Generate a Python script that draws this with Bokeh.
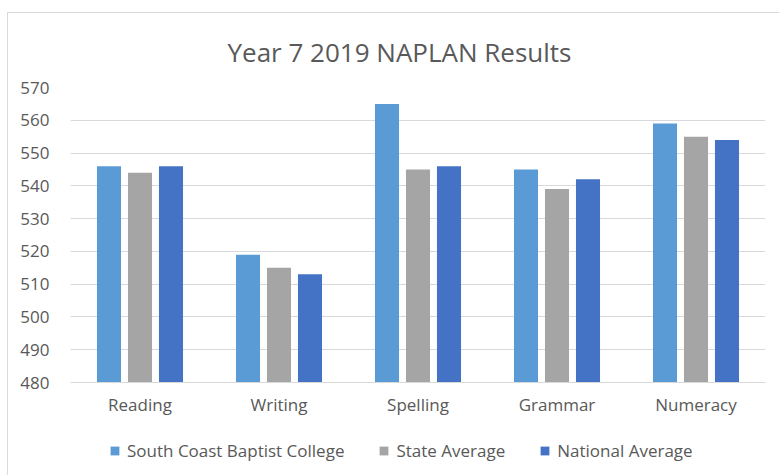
from bokeh.plotting import figure
from bokeh.layouts import column
from bokeh.models import ColumnDataSource, Range1d, FixedTicker, Legend, LegendItem
from bokeh.transform import dodge
from bokeh.embed import file_html
from bokeh.resources import INLINE

categories = ["Reading", "Writing", "Spelling", "Grammar", "Numeracy"]
school = [546, 519, 565, 545, 559]
state = [544, 515, 545, 539, 555]
national = [546, 513, 546, 542, 554]
series_names = ["South Coast Baptist College", "State Average", "National Average"]
y_ticks = [480, 490, 500, 510, 520, 530, 540, 550, 560, 570]

colors = ["#5B9BD5", "#A5A5A5", "#4472C4"]
TEXT = "#595959"
GRID = "#D9D9D9"
fields = ["school", "state", "national"]
offsets = [-0.223, 0.0, 0.223]

src = ColumnDataSource(dict(cat=categories, school=school, state=state, national=national))

# main chart
p = figure(x_range=categories, y_range=Range1d(480, 570), width=771, height=414,
           output_backend="svg", toolbar_location=None,
           min_border_left=62, min_border_right=14, min_border_top=74, min_border_bottom=45)

p.title.text = "Year 7 2019 NAPLAN Results"
p.title.align = "left"
p.title.text_font = "Open Sans"
p.title.text_font_size = "26px"
p.title.text_font_style = "normal"
p.title.text_color = TEXT
p.title.standoff = 36
p.title.offset = 157

for field, off, col in zip(fields, offsets, colors):
    p.vbar(x=dodge("cat", off, range=p.x_range), top=field, bottom=480, width=0.173,
           source=src, fill_color=col, line_color=None)

p.yaxis.ticker = FixedTicker(ticks=y_ticks)
p.yaxis.axis_line_color = None
p.yaxis.major_tick_line_color = None
p.yaxis.minor_tick_line_color = None
p.yaxis.major_label_standoff = 15
p.yaxis.major_label_text_font = "Open Sans"
p.yaxis.major_label_text_font_size = "17px"
p.yaxis.major_label_text_color = TEXT

p.xaxis.axis_line_color = GRID
p.xaxis.major_tick_line_color = None
p.xaxis.minor_tick_line_color = None
p.xaxis.major_label_standoff = 4
p.xaxis.major_label_text_font = "Open Sans"
p.xaxis.major_label_text_font_size = "17px"
p.xaxis.major_label_text_color = TEXT

p.xgrid.grid_line_color = None
p.ygrid.grid_line_color = GRID
p.ygrid.grid_line_width = 1
p.outline_line_color = None

# legend strip
lp = figure(x_range=p.x_range, y_range=Range1d(480, 570), width=771, height=48,
            output_backend="svg", toolbar_location=None,
            x_axis_location=None, y_axis_location=None, min_border=0)
lp.outline_line_color = None
lp.grid.visible = False
leg_renderers = []
for field, off, col in zip(fields, offsets, colors):
    r = lp.vbar(x=dodge("cat", off, range=lp.x_range), top=field, bottom=480, width=0.173,
                source=src, fill_color=col, line_color=None, visible=False)
    leg_renderers.append(r)

legend = Legend(items=[LegendItem(label=n, renderers=[r]) for n, r in zip(series_names, leg_renderers)],
                orientation="horizontal", location=(39, 13),
                glyph_width=11, glyph_height=11, label_standoff=7, spacing=34,
                label_text_font="Open Sans", label_text_font_size="17px", label_text_color=TEXT,
                border_line_color=None, background_fill_alpha=0, margin=0, padding=6,
                inactive_fill_alpha=0)
lp.add_layout(legend, "center")

layout = column(p, lp, spacing=0)
layout.margin = (12, 0, 0, 7)
layout.styles = {"border-top": "1px solid #D9D9D9", "border-left": "1px solid #D9D9D9"}

open("out.html", "w").write(file_html(layout, INLINE))
